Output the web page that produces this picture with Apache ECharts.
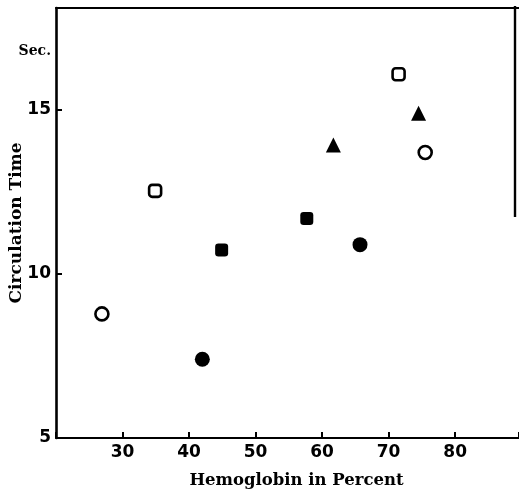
<!DOCTYPE html>
<html>
<head>
<meta charset="utf-8">
<script src="https://cdn.jsdelivr.net/npm/echarts@6/dist/echarts.min.js"></script>
<style>
  html, body { margin: 0; padding: 0; background: #fff; }
  #chart { width: 519px; height: 493px; }
</style>
</head>
<body>
<div id="chart"></div>
<script>
// values (hemoglobin %, circulation time in sec)
const openCircles = [[26.9, 8.78], [75.5, 13.7]];
const filledCircles = [[42.0, 7.4], [65.7, 10.89]];
const openSquares = [[34.9, 12.53], [71.5, 16.08]];
const filledSquares = [[44.9, 10.73], [57.7, 11.69]];
const filledTriangles = [[61.7, 13.93], [74.5, 14.89]];
const xTicks = [30, 40, 50, 60, 70, 80];
const yTicks = [5, 10, 15];

const ink = '#000';
const labelFont = 'DejaVu Sans';
const nameFont = 'DejaVu Serif';

function scatter(name, data, symbol, size, filled) {
  return {
    name: name,
    type: 'scatter',
    data: data,
    symbol: symbol,
    symbolSize: size,
    itemStyle: filled
      ? { color: ink, opacity: 1 }
      : { color: '#fff', borderColor: ink, borderWidth: 2.6, opacity: 1 },
    z: 5,
  };
}

const chart = echarts.init(document.getElementById('chart'));
chart.setOption({
  animation: false,
  backgroundColor: '#fff',
  grid: { left: 56, top: 8, width: 463, height: 430, outerBoundsMode: 'none', containLabel: false },
  xAxis: [
    {
      type: 'value',
      min: 20,
      max: 89.6,
      interval: 10,
      name: 'Hemoglobin in Percent',
      nameLocation: 'middle',
      nameGap: 34,
      nameTextStyle: { fontFamily: nameFont, fontWeight: 'bold', fontSize: 16.5, color: ink, padding: [0, 0, 0, 18] },
      axisLine: { lineStyle: { color: ink, width: 2.2 } },
      axisTick: { inside: true, length: 6, lineStyle: { color: ink, width: 2 } },
      axisLabel: {
        color: ink,
        fontFamily: labelFont,
        fontWeight: 'bold',
        fontSize: 17,
        margin: 6,
        formatter: (v) => (xTicks.includes(v) ? String(v) : ''),
      },
      splitLine: { show: false },
    },
    {
      type: 'value',
      position: 'top',
      min: 20,
      max: 89.6,
      axisLine: { show: true, lineStyle: { color: ink, width: 2.2 } },
      axisTick: { show: false },
      axisLabel: { show: false },
      splitLine: { show: false },
    },
  ],
  yAxis: {
    type: 'value',
    min: 5,
    max: 18.1,
    interval: 5,
    name: 'Circulation Time',
    nameLocation: 'middle',
    nameGap: 31,
    nameMoveOverlap: false,
    nameTextStyle: { fontFamily: nameFont, fontWeight: 'bold', fontSize: 17, color: ink },
    axisLine: { show: true, lineStyle: { color: ink, width: 2.6 } },
    axisTick: { inside: true, length: 6, lineStyle: { color: ink, width: 2 } },
    axisLabel: {
      color: ink,
      fontFamily: labelFont,
      fontWeight: 'bold',
      fontSize: 17,
      margin: 5,
      showMaxLabel: false,
      formatter: (v) => (yTicks.includes(v) ? String(v) : ''),
    },
    splitLine: { show: false },
  },
  graphic: [
    {
      type: 'line',
      shape: { x1: 515, y1: 6, x2: 515, y2: 217 },
      style: { stroke: ink, lineWidth: 2.4 },
    },
    {
      type: 'text',
      right: 468,
      top: 44,
      style: { text: 'Sec.', font: 'bold 14px "DejaVu Serif"', fill: ink },
    },
  ],
  series: [
    scatter('open circle', openCircles, 'circle', 13, false),
    scatter('filled circle', filledCircles, 'circle', 15, true),
    scatter('open square', openSquares, 'roundRect', 12, false),
    scatter('filled square', filledSquares, 'roundRect', 13, true),
    scatter('filled triangle', filledTriangles, 'triangle', 15, true),
  ],
});
</script>
</body>
</html>
